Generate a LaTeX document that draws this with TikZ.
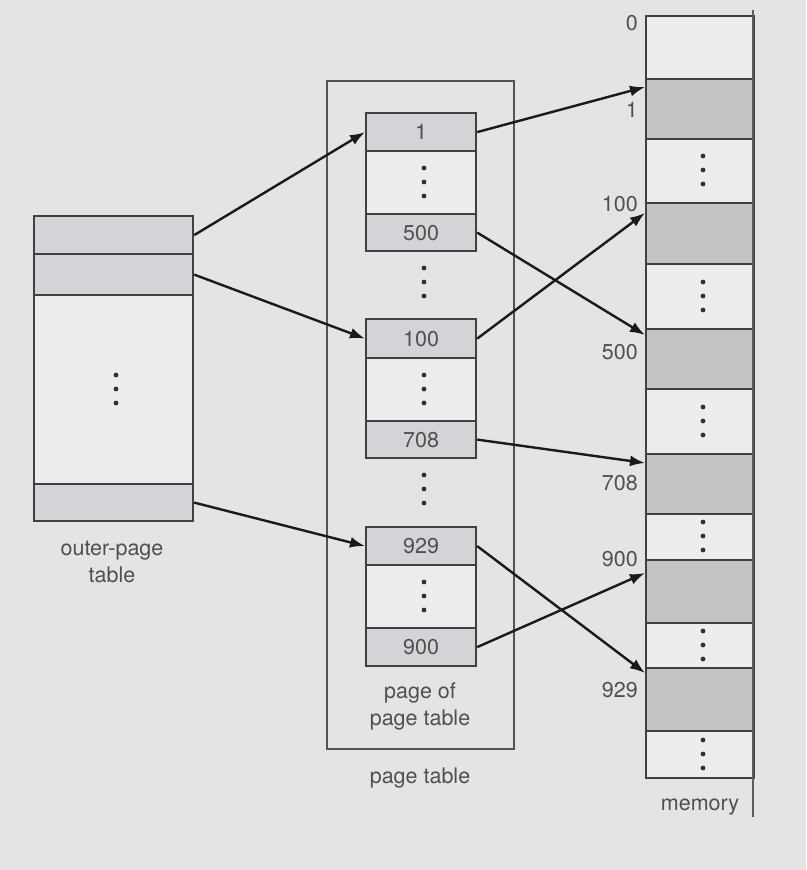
\documentclass[tikz,border=0pt]{standalone}
\usepackage{fontspec}
\setmainfont{TeX Gyre Heros}
\usetikzlibrary{arrows.meta,calc}
\definecolor{bg}{HTML}{E4E4E4}
\definecolor{wcell}{HTML}{EDEDED}
\definecolor{tcell}{HTML}{D3D4D7}
\definecolor{mcell}{HTML}{C3C4C6}
\definecolor{linec}{HTML}{404040}
\definecolor{txt}{HTML}{505050}
\definecolor{arr}{HTML}{1A1A1A}
\newcommand\threedots[2]{%
  \fill[arr!90] (#1,#2-14) circle[radius=2.4pt] (#1,#2) circle[radius=2.4pt] (#1,#2+14) circle[radius=2.4pt];}
\begin{document}
\begin{tikzpicture}[x=1pt,y=-1pt,
  font=\fontsize{21.5}{27}\selectfont,
  cell/.style={draw=linec, line width=2.2pt, inner sep=0pt, anchor=north west, text=txt},
  frame/.style={draw=linec!90, line width=1.7pt, inner sep=0pt, anchor=north west},
  lab/.style={text=txt, inner sep=0pt, align=center},
  conn/.style={draw=arr, line width=2.4pt, -{Latex[length=15pt,width=11pt]}}]
\fill[bg] (0,0) rectangle (806,870);
\useasboundingbox (0,0) rectangle (806,870);

% outer page table
\node[cell, fill=tcell, minimum width=159pt, minimum height=38pt] (o1) at (33,215) {};
\node[cell, fill=tcell, minimum width=159pt, minimum height=41pt] (o2) at (33,253) {};
\node[cell, fill=wcell, minimum width=159pt, minimum height=189pt] (om) at (33,294) {};
\node[cell, fill=tcell, minimum width=159pt, minimum height=37pt] (o3) at (33,483) {};
\threedots{116}{389}
\node[lab] (olab) at (112,562) {outer-page\\table};

% page table frame
\node[frame, minimum width=187pt, minimum height=668pt] (pt) at (326,80) {};
\node[lab] (ptlab) at (420,778) {page table};

% block 1
\node[cell, fill=tcell, minimum width=110pt, minimum height=38pt] (b1a) at (365,112) {1};
\node[cell, fill=wcell, minimum width=110pt, minimum height=63pt] (b1m) at (365,150) {};
\node[cell, fill=tcell, minimum width=110pt, minimum height=37pt] (b1b) at (365,213) {500};
\threedots{424}{182}
\threedots{424}{282}
% block 2
\node[cell, fill=tcell, minimum width=110pt, minimum height=39pt] (b2a) at (365,318) {100};
\node[cell, fill=wcell, minimum width=110pt, minimum height=63pt] (b2m) at (365,357) {};
\node[cell, fill=tcell, minimum width=110pt, minimum height=37pt] (b2b) at (365,420) {708};
\threedots{424}{389}
\threedots{424}{489}
% block 3
\node[cell, fill=tcell, minimum width=110pt, minimum height=38pt] (b3a) at (365,526) {929};
\node[cell, fill=wcell, minimum width=110pt, minimum height=63pt] (b3m) at (365,564) {};
\node[cell, fill=tcell, minimum width=110pt, minimum height=38pt] (b3b) at (365,627) {900};
\threedots{424}{596}
\node[lab] (poplab) at (420,706) {page of\\page table};

% memory
\node[cell, fill=wcell, minimum width=108pt, minimum height=63pt] (m0) at (645,15) {};
\node[cell, fill=mcell, minimum width=108pt, minimum height=60pt] (m1) at (645,78) {};
\node[cell, fill=wcell, minimum width=108pt, minimum height=64pt] (md1) at (645,138) {};
\node[cell, fill=mcell, minimum width=108pt, minimum height=61pt] (m100) at (645,202) {};
\node[cell, fill=wcell, minimum width=108pt, minimum height=65pt] (md2) at (645,263) {};
\node[cell, fill=mcell, minimum width=108pt, minimum height=60pt] (m500) at (645,328) {};
\node[cell, fill=wcell, minimum width=108pt, minimum height=65pt] (md3) at (645,388) {};
\node[cell, fill=mcell, minimum width=108pt, minimum height=60pt] (m708) at (645,453) {};
\node[cell, fill=wcell, minimum width=108pt, minimum height=46pt] (md4) at (645,513) {};
\node[cell, fill=mcell, minimum width=108pt, minimum height=63pt] (m900) at (645,559) {};
\node[cell, fill=wcell, minimum width=108pt, minimum height=45pt] (md5) at (645,622) {};
\node[cell, fill=mcell, minimum width=108pt, minimum height=63pt] (m929) at (645,667) {};
\node[cell, fill=wcell, minimum width=108pt, minimum height=47pt] (md6) at (645,730) {};
\coordinate (mtop) at (753,10);
\coordinate (mbot) at (753,817);
\draw[linec!85, line width=2pt] (mtop) -- (mbot);
\threedots{703}{170}
\threedots{703}{296}
\threedots{703}{421}
\threedots{703}{536}
\threedots{703}{645}
\threedots{703}{754}
\node[lab, anchor=east] (l0) at (638,23) {0};
\node[lab, anchor=east] (l1) at (638,110) {1};
\node[lab, anchor=east] (l100) at (638,204) {100};
\node[lab, anchor=east] (l500) at (638,352) {500};
\node[lab, anchor=east] (l708) at (638,483) {708};
\node[lab, anchor=east] (l900) at (638,559) {900};
\node[lab, anchor=east] (l929) at (638,690) {929};
\node[lab] (mlab) at (700,807) {memory};

% connectors
\draw[conn] (o1.east) -- (b1a.west);
\draw[conn] (o2.east) -- (b2a.west);
\draw[conn] (o3.east) -- (b3a.west);
\draw[conn] (b1a.east) -- ([yshift=-9pt]m1.north west);
\draw[conn] (b1b.east) -- ([yshift=-7pt]m500.north west);
\draw[conn] (b2a.east) -- ([yshift=-11pt]m100.north west);
\draw[conn] (b2b.east) -- ([yshift=-10pt]m708.north west);
\draw[conn] (b3a.east) -- ([yshift=-6pt]m929.north west);
\draw[conn] (b3b.east) -- ([yshift=-14pt]m900.north west);
\end{tikzpicture}
\end{document}
